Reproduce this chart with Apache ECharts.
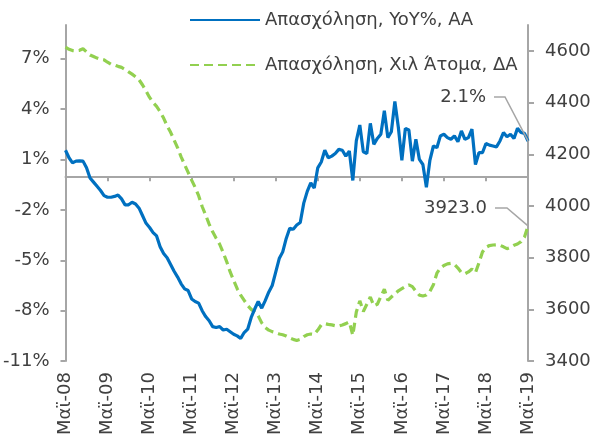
<!DOCTYPE html>
<html>
<head>
<meta charset="utf-8">
<script src="https://cdn.jsdelivr.net/npm/echarts@6/dist/echarts.min.js"></script>
<style>html,body{margin:0;padding:0;background:#fff;}#c{width:595px;height:438px;}</style>
</head>
<body>
<div id="c"></div>
<script>
const monthNames = ['Ιαν','Φεβ','Μαρ','Απρ','Μαϊ','Ιουν','Ιουλ','Αυγ','Σεπ','Οκτ','Νοε','Δεκ'];
const startMonth = 4, startYear = 8, monthCount = 133;
const categories = [];
for (let i = 0; i < monthCount; i++) {
  const m = (startMonth + i) % 12;
  const y = startYear + Math.floor((startMonth + i) / 12);
  categories.push(monthNames[m] + '-' + String(y).padStart(2, '0'));
}
const seriesNames = ['Απασχόληση, YoY%, ΑΑ', 'Απασχόληση, Χιλ Άτομα, ΔΑ'];
const employmentYoY = [
  1.55,1.1,0.8,0.9,0.92,0.9,0.5,-0.1,-0.35,-0.6,
  -0.85,-1.15,-1.25,-1.25,-1.2,-1.12,-1.35,-1.7,-1.7,-1.55,
  -1.65,-1.9,-2.35,-2.8,-3.05,-3.35,-3.55,-4.2,-4.6,-4.85,
  -5.25,-5.65,-6.0,-6.4,-6.7,-6.8,-7.3,-7.45,-7.55,-8.0,
  -8.35,-8.6,-8.95,-9.0,-8.95,-9.15,-9.1,-9.25,-9.4,-9.5,
  -9.65,-9.3,-9.1,-8.4,-7.9,-7.45,-7.85,-7.4,-6.9,-6.5,
  -5.7,-4.9,-4.5,-3.7,-3.1,-3.15,-2.9,-2.75,-1.6,-0.9,
  -0.4,-0.7,0.5,0.85,1.55,1.1,1.2,1.35,1.6,1.55,
  1.2,1.5,-0.25,2.1,3.05,1.45,1.35,3.15,1.9,2.25,
  2.5,3.9,2.3,2.65,4.45,2.9,0.95,2.85,2.75,0.9,
  2.2,1.0,0.7,-0.65,0.95,1.8,1.7,2.4,2.5,2.3,
  2.2,2.4,2.05,2.7,2.2,2.3,2.8,0.7,1.4,1.4,
  1.95,1.85,1.8,1.75,2.1,2.6,2.35,2.5,2.25,2.85,
  2.6,2.55,2.1
];
const employmentThousands = [
  4614,4606,4601,4600,4602,4608,4596,4584,4578,4572,
  4567,4565,4556,4548,4545,4540,4536,4528,4519,4510,
  4500,4488,4468,4445,4420,4400,4385,4365,4340,4310,
  4285,4255,4225,4190,4160,4130,4100,4072,4040,3998,
  3965,3930,3900,3875,3852,3820,3785,3745,3712,3680,
  3655,3635,3615,3600,3590,3575,3548,3530,3520,3514,
  3510,3505,3502,3497,3490,3484,3480,3484,3495,3502,
  3505,3503,3520,3540,3545,3542,3540,3537,3536,3540,
  3545,3552,3500,3590,3633,3592,3620,3648,3614,3620,
  3650,3678,3635,3648,3660,3672,3680,3688,3695,3688,
  3670,3655,3652,3656,3670,3695,3740,3760,3770,3776,
  3778,3774,3760,3742,3738,3745,3756,3742,3780,3822,
  3840,3847,3849,3850,3848,3842,3835,3840,3848,3853,
  3862,3880,3923
];
const leftTicks = [-11,-8,-5,-2,1,4,7];
const rightTicks = [3400,3600,3800,4000,4200,4400,4600];
const yoyLabel = '2.1%';
const levelLabel = '3923.0';

const FONT = 'DejaVu Sans';
const FS = 18;
const TXT = '#404040';
const AX = '#a6a6a6';
const BLUE = '#0070c0';
const GREEN = '#92d050';

const chart = echarts.init(document.getElementById('c'), null, {renderer: 'canvas'});
const option = {
  animation: false,
  backgroundColor: '#fff',
  textStyle: {fontFamily: FONT, color: TXT},
  grid: {left: 61, right: 67, top: 25, bottom: 76, containLabel: false},
  legend: {
    orient: 'vertical', left: 184, top: 6, itemWidth: 70, itemHeight: 14, itemGap: 27,
    itemStyle: {opacity: 0},
    textStyle: {fontFamily: FONT, fontSize: FS, color: TXT},
    data: seriesNames
  },
  xAxis: [
    {
      type: 'category', data: categories, boundaryGap: false, position: 'bottom',
      axisLine: {show: true, onZero: true, onZeroAxisIndex: 0, lineStyle: {color: AX, width: 2}},
      axisTick: {show: true, interval: 11, length: 5, lineStyle: {color: AX, width: 2}},
      axisLabel: {show: false}, splitLine: {show: false}
    },
    {
      type: 'category', data: categories, boundaryGap: false, position: 'bottom',
      axisLine: {show: false, onZero: false}, axisTick: {show: false},
      axisLabel: {show: true, interval: 11, rotate: 90, margin: 11, fontFamily: FONT, fontSize: FS, color: TXT},
      splitLine: {show: false}
    }
  ],
  yAxis: [
    {
      type: 'value', position: 'left', min: -11, max: 9, interval: 3,
      axisLine: {show: true, lineStyle: {color: AX, width: 2}},
      axisTick: {show: true, length: 5, customValues: leftTicks, lineStyle: {color: AX, width: 2}},
      axisLabel: {customValues: leftTicks, formatter: '{value}%', margin: 16, fontFamily: FONT, fontSize: FS, color: TXT},
      splitLine: {show: false}
    },
    {
      type: 'value', position: 'right', min: 3400, max: 4700, interval: 200,
      axisLine: {show: true, lineStyle: {color: AX, width: 2}},
      axisTick: {show: true, length: 6, customValues: rightTicks, lineStyle: {color: AX, width: 2}},
      axisLabel: {customValues: rightTicks, formatter: function (v) { return String(v); }, margin: 17, fontFamily: FONT, fontSize: FS, color: TXT},
      splitLine: {show: false}
    }
  ],
  series: [
    {
      name: seriesNames[0], type: 'line', xAxisIndex: 0, yAxisIndex: 0,
      data: employmentYoY, symbol: 'none', smooth: false,
      lineStyle: {color: BLUE, width: 3.2}, itemStyle: {color: BLUE}, z: 3
    },
    {
      name: seriesNames[1], type: 'line', xAxisIndex: 0, yAxisIndex: 1,
      data: employmentThousands, symbol: 'none', smooth: false,
      lineStyle: {color: GREEN, width: 3.2, type: [9, 5]}, itemStyle: {color: GREEN}, z: 2
    }
  ]
};
chart.setOption(option);

const last = monthCount - 1;
const pA = chart.convertToPixel({xAxisIndex: 0, yAxisIndex: 0}, [last, employmentYoY[last]]);
const pB = chart.convertToPixel({xAxisIndex: 0, yAxisIndex: 1}, [last, employmentThousands[last]]);
function annot(p, text, dy, seg1, seg2) {
  return [
    {type: 'polyline', silent: true, z: 10,
     shape: {points: [[p[0] - seg1, p[1] + dy], [p[0] - seg2, p[1] + dy], [p[0], p[1]]]},
     style: {stroke: AX, lineWidth: 1.5, fill: null}},
    {type: 'text', silent: true, z: 10, x: p[0] - seg1 - 8, y: p[1] + dy,
     style: {text: text, fill: TXT, font: FS + 'px "' + FONT + '"', align: 'right', verticalAlign: 'middle'}}
  ];
}
chart.setOption({graphic: [].concat(annot(pA, yoyLabel, -44, 34, 23), annot(pB, levelLabel, -18, 33, 21))});
</script>
</body>
</html>
